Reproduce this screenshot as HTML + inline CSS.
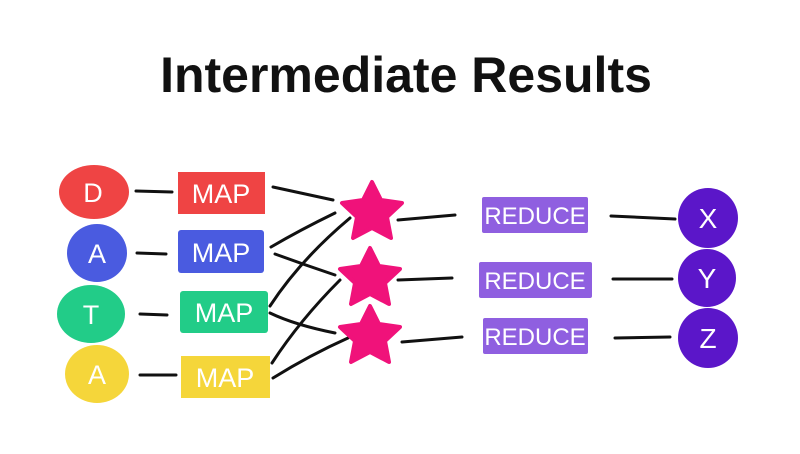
<!DOCTYPE html>
<html><head><style>
body{margin:0;background:#fff;}
svg{display:block}
</style></head><body>
<svg width="800" height="454" viewBox="0 0 800 454" xmlns="http://www.w3.org/2000/svg">
<rect width="800" height="454" fill="#fff"/>
<text x="406" y="92" text-anchor="middle" font-family="Liberation Sans, sans-serif" font-weight="bold" font-size="50" fill="#111">Intermediate Results</text>
<g stroke="#111" stroke-width="3" fill="none" stroke-linecap="round">
<path d="M136 191 L172 192"/><path d="M137 253 L166 254"/><path d="M140 314 L167 315"/><path d="M140 375 L176 375"/>
<path d="M273 187 L333 200"/>
<path d="M271 247 Q300 230 335 213"/>
<path d="M275 254 Q305 265 335 275"/>
<path d="M270 306 Q300 260 350 218"/>
<path d="M270 313 Q295 325 335 333"/>
<path d="M272 363 Q300 320 340 280"/>
<path d="M273 378 Q310 355 348 338"/>
<path d="M398 220 L455 215"/><path d="M398 280 L452 278"/><path d="M402 342 L462 337"/>
<path d="M611 216 L675 219"/><path d="M613 279 L672 279"/><path d="M615 338 L670 337"/>
</g>
<ellipse cx="94" cy="192" rx="35" ry="27" fill="#ef4444"/>
<ellipse cx="97" cy="253" rx="30" ry="29" fill="#4a5be0"/>
<ellipse cx="91" cy="314" rx="34" ry="29" fill="#22cc88"/>
<ellipse cx="97" cy="374" rx="32" ry="29" fill="#f5d63a"/>
<rect x="178" y="172" width="87" height="42" fill="#ef4444"/>
<rect x="178" y="230" width="86" height="43" rx="3" fill="#4a5be0"/>
<rect x="180" y="291" width="88" height="42" rx="3" fill="#22cc88"/>
<rect x="181" y="356" width="89" height="42" fill="#f5d63a"/>
<g fill="#fff" font-family="Liberation Sans, sans-serif" font-size="27" text-anchor="middle">
<text x="93" y="202">D</text><text x="97" y="263">A</text><text x="91" y="324">T</text><text x="97" y="384">A</text>
<text x="221" y="203">MAP</text><text x="221" y="262">MAP</text><text x="224" y="322">MAP</text><text x="225" y="387">MAP</text>
</g>
<g fill="#f0127a" stroke="#f0127a" stroke-width="4" stroke-linejoin="round">
<polygon points="372,182 381,200 402,203 387,217 391,238 372,228 353,238 357,217 342,203 363,200"/>
<polygon points="370,248 379,266 400,269 385,283 389,304 370,294 351,304 355,283 340,269 361,266"/>
<polygon points="370,306 379,324 400,327 385,341 389,362 370,352 351,362 355,341 340,327 361,324"/>
</g>
<g fill="#8f5fe0">
<rect x="482" y="197" width="106" height="36" rx="2"/>
<rect x="479" y="262" width="113" height="36" rx="2"/>
<rect x="483" y="318" width="105" height="36" rx="2"/>
</g>
<g fill="#5b16c9">
<circle cx="708" cy="218" r="30"/><circle cx="707" cy="278" r="29"/><circle cx="708" cy="338" r="30"/>
</g>
<g fill="#fff" font-family="Liberation Sans, sans-serif" font-size="24" text-anchor="middle">
<text x="535" y="224">REDUCE</text><text x="535" y="289">REDUCE</text><text x="535" y="345">REDUCE</text>
<text x="708" y="228" font-size="28">X</text><text x="707" y="288" font-size="28">Y</text><text x="708" y="348" font-size="28">Z</text>
</g>
</svg>
</body></html>
